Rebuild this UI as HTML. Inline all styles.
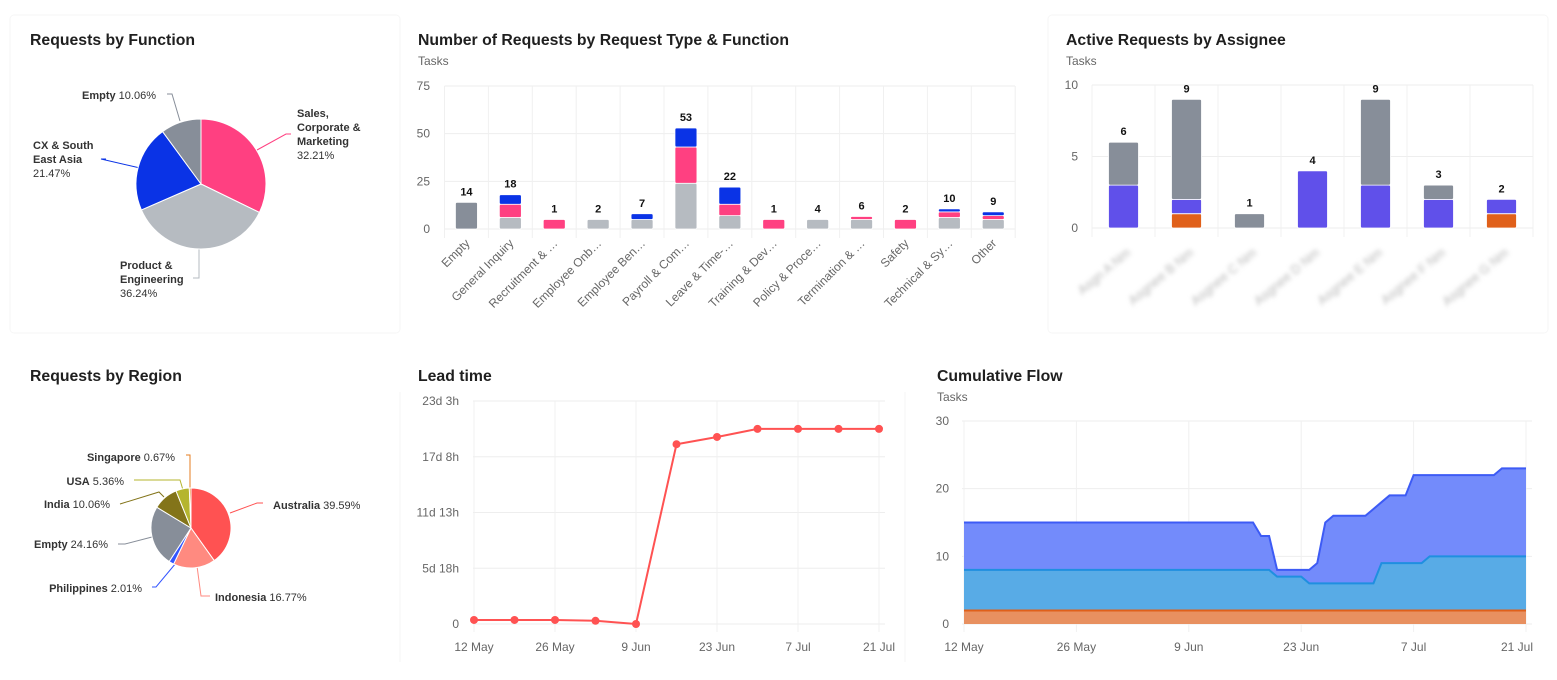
<!DOCTYPE html>
<html><head><meta charset="utf-8"><style>
html,body{margin:0;padding:0;background:#fff;}
svg{display:block;font-family:"Liberation Sans",Arial,sans-serif;}
.t{font-size:15.8px;font-weight:600;fill:#1f1f1f;}
.st{font-size:12px;fill:#666;}
.tk{font-size:12px;fill:#666;}
.vl{font-size:11px;font-weight:700;fill:#111;}
.pl{font-size:11px;fill:#333;}
.pb{font-weight:700;}
</style></head><body>
<svg id="s" width="1557" height="680" viewBox="0 0 1557 680">
<defs><filter id="bl" x="-20%" y="-50%" width="140%" height="200%"><feGaussianBlur stdDeviation="2.2"/></filter></defs>
<g fill="none" stroke="#f6f6f6">
<rect x="10" y="15" width="390" height="318" rx="4"/>
<rect x="1048" y="15" width="500" height="318" rx="4"/>
<line x1="400" y1="392" x2="400" y2="662"/>
<line x1="905" y1="392" x2="905" y2="662"/>
</g>
<text class="t" x="30" y="45">Requests by Function</text>
<text class="t" x="418" y="45">Number of Requests by Request Type &amp; Function</text>
<text class="st" x="418" y="65">Tasks</text>
<text class="t" x="1066" y="45">Active Requests by Assignee</text>
<text class="st" x="1066" y="65">Tasks</text>
<text class="t" x="30" y="381">Requests by Region</text>
<text class="t" x="418" y="381">Lead time</text>
<text class="t" x="937" y="381">Cumulative Flow</text>
<text class="st" x="937" y="401">Tasks</text>

<g>
<text class="pl" x="82" y="99"><tspan class="pb">Empty</tspan> 10.06%</text>
<text class="pl" x="297" y="117"><tspan class="pb">Sales,</tspan></text>
<text class="pl" x="297" y="131"><tspan class="pb">Corporate &amp;</tspan></text>
<text class="pl" x="297" y="145"><tspan class="pb">Marketing</tspan></text>
<text class="pl" x="297" y="159">32.21%</text>
<text class="pl" x="33" y="149"><tspan class="pb">CX &amp; South</tspan></text>
<text class="pl" x="33" y="163"><tspan class="pb">East Asia</tspan></text>
<text class="pl" x="33" y="177">21.47%</text>
<text class="pl" x="120" y="269"><tspan class="pb">Product &amp;</tspan></text>
<text class="pl" x="120" y="283"><tspan class="pb">Engineering</tspan></text>
<text class="pl" x="120" y="297">36.24%</text>
<polyline points="167,94 172,94 180,121" fill="none" stroke="#878e99"/>
<polyline points="291,134 286,134 257,150" fill="none" stroke="#ff4081"/>
<polyline points="106,159 101,159 140,168" fill="none" stroke="#0a33e6"/>
<polyline points="193,278 199,278 199,248" fill="none" stroke="#b6bbc1"/>
</g>
<g>
<text class="pl" x="175" y="461" text-anchor="end"><tspan class="pb">Singapore</tspan> 0.67%</text>
<text class="pl" x="124" y="485" text-anchor="end"><tspan class="pb">USA</tspan> 5.36%</text>
<text class="pl" x="110" y="508" text-anchor="end"><tspan class="pb">India</tspan> 10.06%</text>
<text class="pl" x="108" y="548" text-anchor="end"><tspan class="pb">Empty</tspan> 24.16%</text>
<text class="pl" x="142" y="592" text-anchor="end"><tspan class="pb">Philippines</tspan> 2.01%</text>
<text class="pl" x="273" y="509"><tspan class="pb">Australia</tspan> 39.59%</text>
<text class="pl" x="215" y="601"><tspan class="pb">Indonesia</tspan> 16.77%</text>
<polyline points="186,455 190,455 190,488" fill="none" stroke="#e67e22"/>
<polyline points="134,480 180,480 183,490" fill="none" stroke="#b5b52e"/>
<polyline points="120,504 159,492 164,497" fill="none" stroke="#837419"/>
<polyline points="118,544 125,544 152,537" fill="none" stroke="#878e99"/>
<polyline points="152,587 156,587 176,563" fill="none" stroke="#3355ff"/>
<polyline points="230,513 257,503 263,503" fill="none" stroke="#ff5252"/>
<polyline points="197,566 201,596 210,596" fill="none" stroke="#ff8a80"/>
</g>
<g id="g1"></g>
<g id="g2"></g>
<g id="g3"></g>
<g id="g4"></g>
<g id="g5"></g>
<g id="g6"></g>
</svg>
<script>
// ---- data ----
const fnLabels = ['Sales, Corporate & Marketing','Product & Engineering','CX & South East Asia','Empty'];
const fnValues = [32.21,36.24,21.47,10.06];
const fnColors = ['#ff4081','#b6bbc1','#0a33e6','#878e99'];

const rtCategories = ['Empty','General Inquiry','Recruitment & …','Employee Onb…','Employee Ben…','Payroll & Com…','Leave & Time-…','Training & Dev…','Policy & Proce…','Termination & …','Safety','Technical & Sy…','Other'];
const rtEmpty   = [14,0,0,0,0,0,0,0,0,0,0,0,0];
const rtProduct = [0,6,0,2,4,24,7,0,4,5,0,6,5];
const rtSales   = [0,7,1,0,0,19,6,1,0,1,2,3,2];
const rtCX      = [0,5,0,0,3,10,9,0,0,0,0,1,2];
const rtTicks = [0,25,50,75];

const asNames = ['Asgn A','Asgnee B','Asgnee C','Asgnee D','Asgnee E','Asgnee F','Asgnee G'];
const asOrange = [0,1,0,0,0,0,1];
const asPurple = [3,1,0,4,3,2,1];
const asGray   = [3,7,1,0,6,1,0];
const asTicks = [0,5,10];

const rgLabels = ['Australia','Indonesia','Philippines','Empty','India','USA','Singapore'];
const rgValues = [39.59,16.77,2.01,24.16,10.06,5.36,0.67];
const rgColors = ['#ff5252','#ff8a80','#3355ff','#878e99','#837419','#b5b52e','#e67e22'];

const ltDays = [0,7,14,21,28,35,42,49,56,63,70];
const ltHours = [10,10,10,8,0,445,463,483,483,483,483];
const ltTickHours = [0,138,276,414,552];
const ltTickLabels = ['0','5d 18h','11d 13h','17d 8h','23d 3h'];
const dateTickDays = [0,14,28,42,56,70];
const dateTickLabels = ['12 May','26 May','9 Jun','23 Jun','7 Jul','21 Jul'];

const cfDone = Array(71).fill(2);
const cfMid = [8,8,8,8,8,8,8,8,8,8,8,8,8,8,8,8,8,8,8,8,8,8,8,8,8,8,8,8,8,8,8,8,8,8,8,8,8,8,8,7,7,7,7,6,6,6,6,6,6,6,6,6,9,9,9,9,9,9,10,10,10,10,10,10,10,10,10,10,10,10,10];
const cfTop = [15,15,15,15,15,15,15,15,15,15,15,15,15,15,15,15,15,15,15,15,15,15,15,15,15,15,15,15,15,15,15,15,15,15,15,15,15,13,13,8,8,8,8,8,9,15,16,16,16,16,16,17,18,19,19,19,22,22,22,22,22,22,22,22,22,22,22,23,23,23,23];
const cfTicks = [0,10,20,30];

const NS='http://www.w3.org/2000/svg';
function mk(p,tag,at){const e=document.createElementNS(NS,tag);for(const k in at)e.setAttribute(k,at[k]);p.appendChild(e);return e;}
function arc(cx,cy,r,a0,a1){const x0=cx+r*Math.sin(a0),y0=cy-r*Math.cos(a0),x1=cx+r*Math.sin(a1),y1=cy-r*Math.cos(a1);return `M${cx},${cy}L${x0},${y0}A${r},${r} 0 ${a1-a0>Math.PI?1:0} 1 ${x1},${y1}Z`;}
function pie(g,cx,cy,r,vals,cols,labels){const tot=vals.reduce((a,b)=>a+b,0);let a=0;vals.forEach((v,i)=>{const a1=a+v/tot*2*Math.PI;const p=mk(g,'path',{d:arc(cx,cy,r,a,a1),fill:cols[i],stroke:'#fff','stroke-width':1});


a=a1;});}

pie(document.getElementById('g1'),201,184,65,fnValues,fnColors,fnLabels);
pie(document.getElementById('g4'),191,528,40,rgValues,rgColors,rgLabels);

(function(){const g=document.getElementById('g2');const x0=444.5,bw=43.9,y0=229,yMax=75,h=143;
const y=v=>y0-v/yMax*h;
rtTicks.forEach(t=>{const l=mk(g,'line',{x1:x0,x2:1015,y1:y(t),y2:y(t),stroke:'#eee'});


const tx=mk(g,'text',{x:430,y:y(t)+4,'text-anchor':'end',class:'tk'});tx.textContent=t;

});
for(let i=0;i<=rtCategories.length;i++){const l=mk(g,'line',{x1:x0+i*bw,x2:x0+i*bw,y1:86,y2:238,stroke:'#f0f0f0'});

}
const series=[[rtEmpty,'#878e99'],[rtProduct,'#b6bbc1'],[rtSales,'#ff4081'],[rtCX,'#0a33e6']];
rtCategories.forEach((c,i)=>{const cx=x0+bw*(i+0.5);let top=y0;let first=true;let tot=0;
series.forEach(([arr,col])=>{const v=arr[i];if(!v)return;tot+=v;let ph=v/yMax*h;ph=Math.max(ph,first?9.5:3);first=false;
const r=mk(g,'rect',{x:cx-11,y:top-ph,width:22,height:ph,fill:col,stroke:'#fff','stroke-width':0.8,rx:1.5});


top-=ph;});
const vt=mk(g,'text',{x:cx,y:top-7,'text-anchor':'middle',class:'vl'});vt.textContent=tot;


const xl=mk(g,'text',{x:cx+4,y:244,'text-anchor':'end',class:'tk',transform:`rotate(-45 ${cx+4} 244)`});xl.textContent=c;

});})();

(function(){const g=document.getElementById('g3');const x0=1092,bw=63,y0=228,yMax=10,h=143;
const y=v=>y0-v/yMax*h;
asTicks.forEach(t=>{const l=mk(g,'line',{x1:x0,x2:1533,y1:y(t),y2:y(t),stroke:'#eee'});


const tx=mk(g,'text',{x:1078,y:y(t)+4,'text-anchor':'end',class:'tk'});tx.textContent=t;

});
for(let i=0;i<=asNames.length;i++){const l=mk(g,'line',{x1:x0+i*bw,x2:x0+i*bw,y1:85,y2:237,stroke:'#f0f0f0'});

}
const series=[[asOrange,'#e0601a'],[asPurple,'#6050ea'],[asGray,'#878e99']];
asNames.forEach((n,i)=>{const cx=x0+bw*(i+0.5);let top=y0;let tot=0;
series.forEach(([arr,col])=>{const v=arr[i];if(!v)return;tot+=v;const ph=v/yMax*h;
const r=mk(g,'rect',{x:cx-15,y:top-ph,width:30,height:ph,fill:col,stroke:'#fff','stroke-width':0.8,rx:1.5});


top-=ph;});
const vt=mk(g,'text',{x:cx,y:top-7,'text-anchor':'middle',class:'vl'});vt.textContent=tot;


const xl=mk(g,'text',{x:cx+8,y:254,'text-anchor':'end',fill:'#b8b8b8','font-size':'13',filter:'url(#bl)',transform:`rotate(-40 ${cx+8} 254)`});xl.textContent=n+' Nm';

});})();

(function(){const g=document.getElementById('g5');const xs=d=>474+d*(879-474)/70;const y=v=>624-v/552*223;
ltTickHours.forEach((t,i)=>{const l=mk(g,'line',{x1:473,x2:885,y1:y(t),y2:y(t),stroke:'#eee'});


const tx=mk(g,'text',{x:459,y:y(t)+4,'text-anchor':'end',class:'tk'});tx.textContent=ltTickLabels[i];

});
dateTickDays.forEach((d,i)=>{const l=mk(g,'line',{x1:xs(d),x2:xs(d),y1:401,y2:632,stroke:'#f0f0f0'});


const tx=mk(g,'text',{x:xs(d),y:651,'text-anchor':'middle',class:'tk'});tx.textContent=dateTickLabels[i];

});
const pl=mk(g,'polyline',{points:ltDays.map((d,i)=>xs(d)+','+y(ltHours[i])).join(' '),fill:'none',stroke:'#ff5252','stroke-width':2});


ltDays.forEach((d,i)=>{const c=mk(g,'circle',{cx:xs(d),cy:y(ltHours[i]),r:4,fill:'#ff5252'});

});})();

(function(){const g=document.getElementById('g6');const xs=d=>964+d*(1526-964)/70;const y=v=>624-v/30*203;
cfTicks.forEach(t=>{const l=mk(g,'line',{x1:962,x2:1532,y1:y(t),y2:y(t),stroke:'#eee'});


const tx=mk(g,'text',{x:949,y:y(t)+4,'text-anchor':'end',class:'tk'});tx.textContent=t;

});
dateTickDays.forEach((d,i)=>{const l=mk(g,'line',{x1:xs(d),x2:xs(d),y1:421,y2:632,stroke:'#f0f0f0'});


const tx=mk(g,'text',{x:Math.min(xs(d),1517),y:651,'text-anchor':'middle',class:'tk'});tx.textContent=dateTickLabels[i];

});
function area(arr,fill,stroke,name){const top=arr.map((v,i)=>xs(i)+','+y(v)).join(' ');
const p=mk(g,'polygon',{points:`${xs(0)},${y(0)} ${top} ${xs(arr.length-1)},${y(0)}`,fill:fill});


const l=mk(g,'polyline',{points:top,fill:'none',stroke:stroke,'stroke-width':2});

}
area(cfTop,'#738bfb','#3d5bf5','todo');
area(cfMid,'#58abe6','#1f8fe0','in-progress');
area(cfDone,'#e89060','#e0601a','done');})();
</script>
</body></html>
